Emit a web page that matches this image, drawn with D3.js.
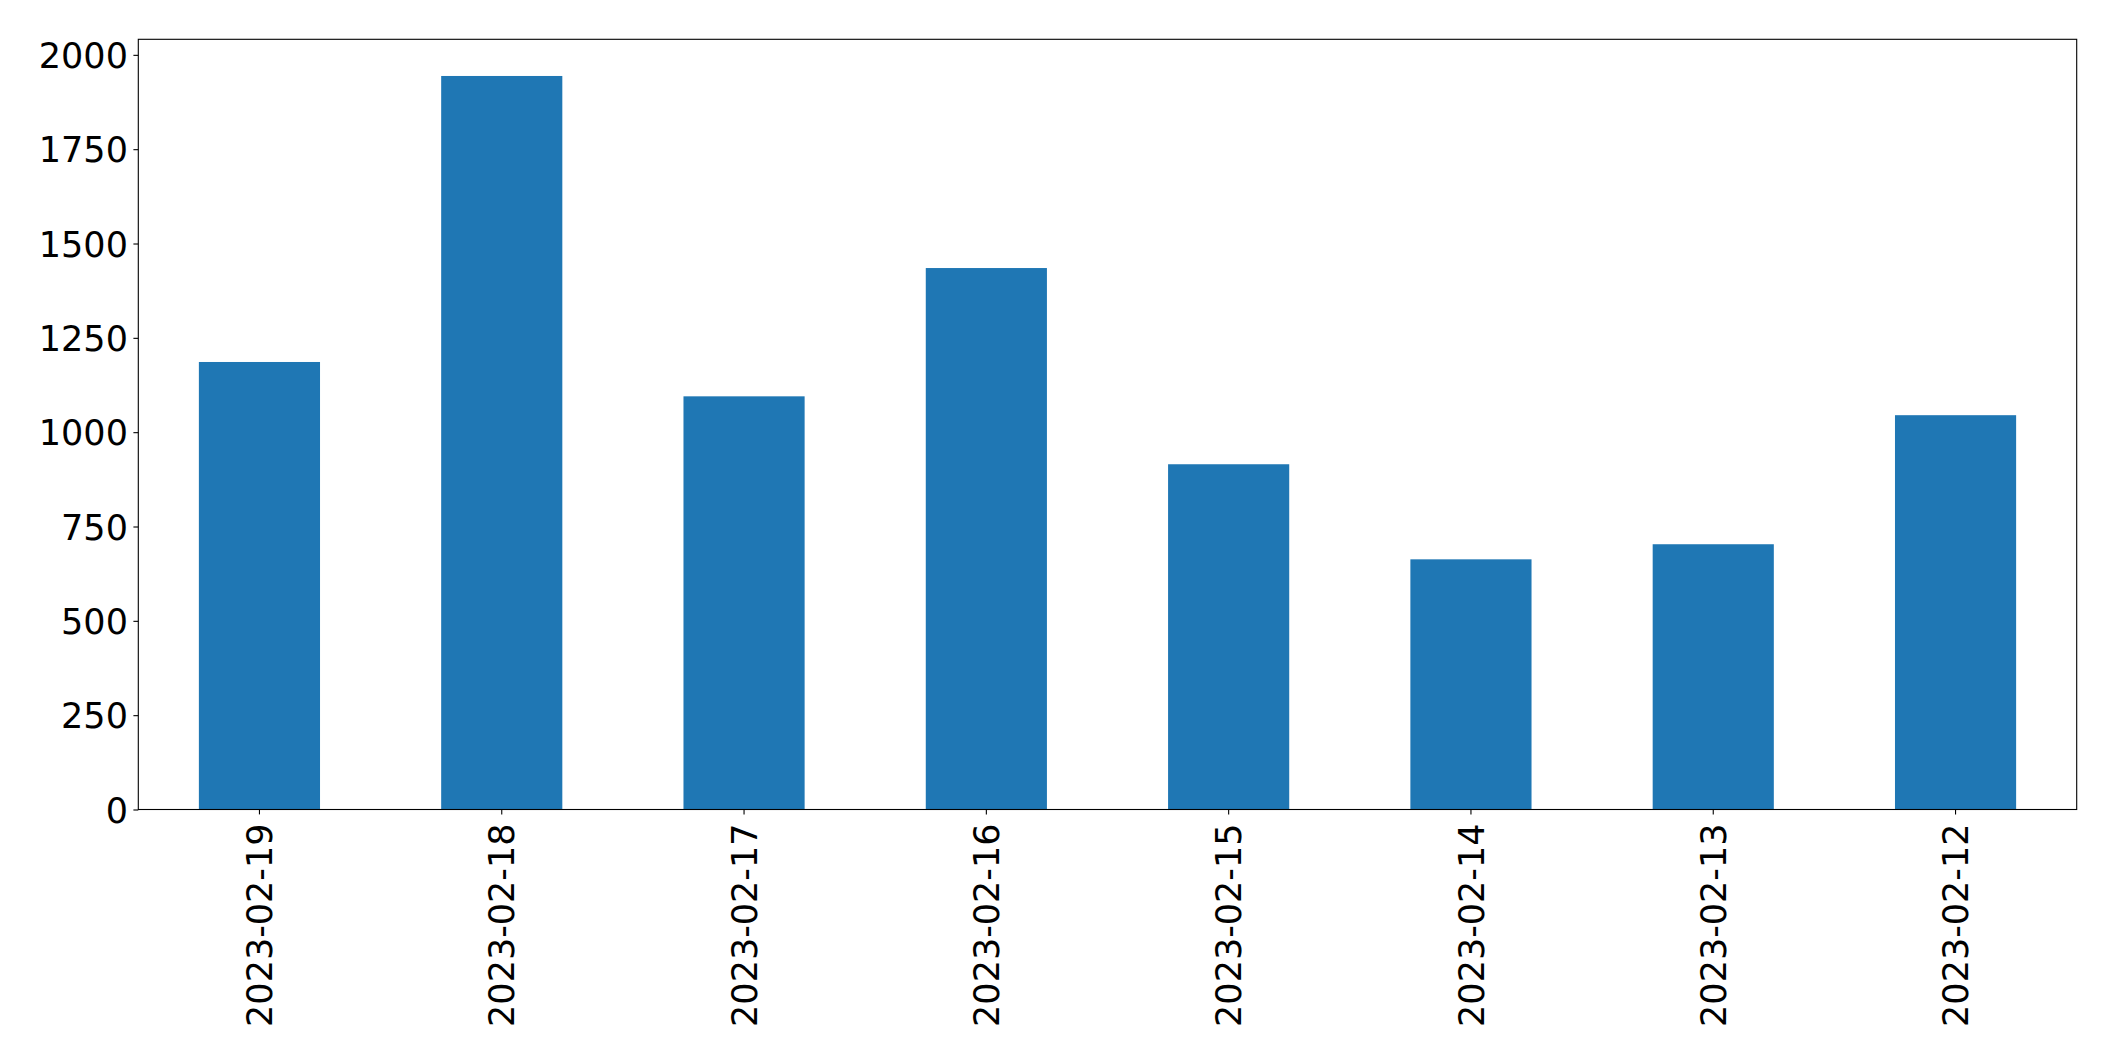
<!DOCTYPE html>
<meta charset="utf-8">
<script src="https://d3js.org/d3.v7.min.js"></script>
<style>
  body { margin: 0; background: #fff; }
  .tick text { font-family: "DejaVu Sans"; fill: #000; }
</style>
<div id="chart"></div>
<script>
  // data
  const dates = ["2023-02-19", "2023-02-18", "2023-02-17", "2023-02-16",
                 "2023-02-15", "2023-02-14", "2023-02-13", "2023-02-12"];
  const counts = [1186, 1944, 1095, 1435, 915, 663, 703, 1045];
  const yTicks = [0, 250, 500, 750, 1000, 1250, 1500, 1750, 2000];

  const W = 2115, H = 1061;
  const margin = { top: 39.3, right: 38.3, bottom: 251.5, left: 138.3 },
    width = W - margin.left - margin.right,
    height = H - margin.top - margin.bottom;

  const svg = d3.select("#chart")
    .append("svg")
    .attr("width", W)
    .attr("height", H)
    .append("g")
    .attr("transform", `translate(${margin.left}, ${margin.top})`);

  const x = d3.scaleBand()
    .domain(dates)
    .range([0, width])
    .paddingInner(0.5)
    .paddingOuter(0.25);

  const yMax = d3.max(counts) * 1.05;
  const y = d3.scaleLinear()
    .domain([0, yMax])
    .range([height, 0]);

  // bars
  svg.selectAll("rect.bar")
    .data(counts)
    .enter()
    .append("rect")
    .attr("class", "bar")
    .attr("x", (d, i) => x(dates[i]))
    .attr("y", d => y(d))
    .attr("width", x.bandwidth())
    .attr("height", d => height - y(d))
    .attr("fill", "#1f77b4");

  // y axis
  const yAxis = svg.append("g")
    .call(d3.axisLeft(y).tickValues(yTicks).tickFormat(d3.format("d"))
      .tickSize(4.9).tickPadding(5.5));
  yAxis.select(".domain").remove();
  yAxis.selectAll(".tick line").attr("stroke", "#000").attr("stroke-width", 1.1);
  yAxis.selectAll("text").style("font-size", "35px").attr("dy", "0.36em");

  // x axis
  const xAxis = svg.append("g")
    .attr("transform", `translate(0, ${height})`)
    .call(d3.axisBottom(x).tickSize(4.9).tickPadding(4.9));
  xAxis.select(".domain").remove();
  xAxis.selectAll(".tick line").attr("stroke", "#000").attr("stroke-width", 1.1);
  xAxis.selectAll("text")
    .style("font-size", "35px")
    .attr("text-anchor", "end")
    .attr("dy", "0.36em")
    .attr("y", 0)
    .attr("transform", "translate(0, 14) rotate(-90)");

  // frame
  svg.append("rect")
    .attr("x", 0)
    .attr("y", 0)
    .attr("width", width)
    .attr("height", height)
    .attr("fill", "none")
    .attr("stroke", "#000")
    .attr("stroke-width", 1.1);
</script>
